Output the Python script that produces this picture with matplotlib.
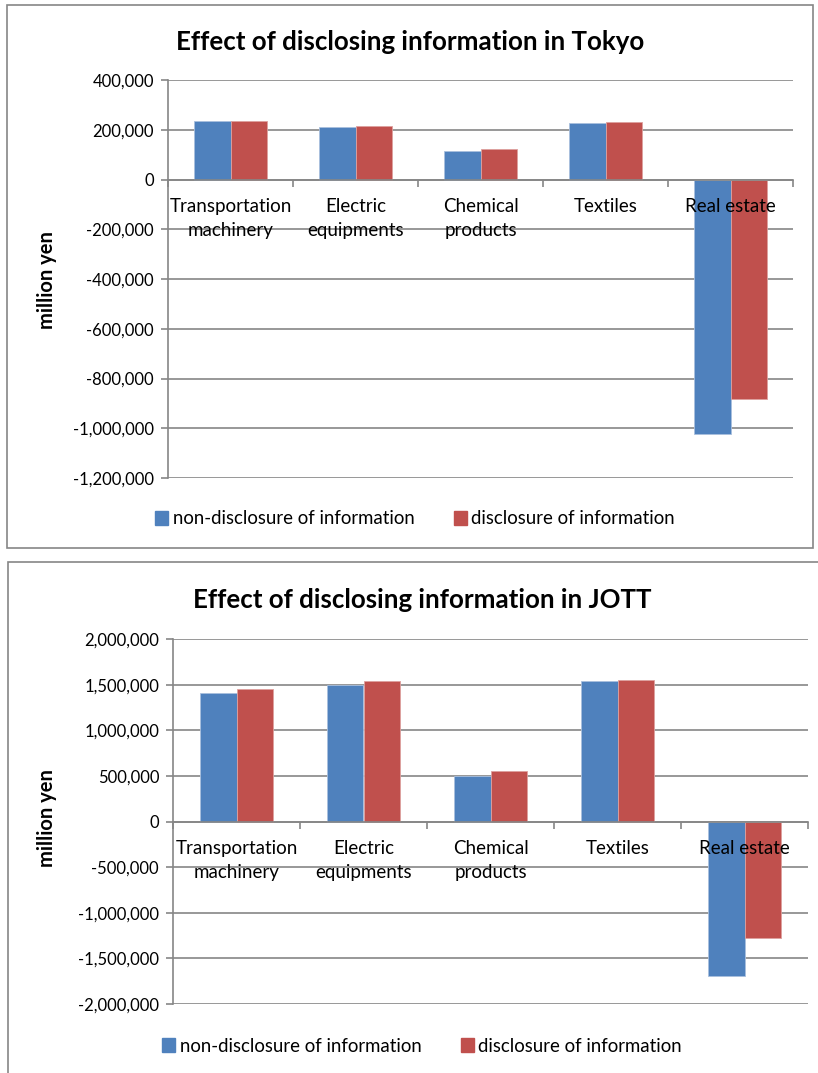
import matplotlib
matplotlib.use("Agg")
import matplotlib.pyplot as plt
from matplotlib.patches import Rectangle, Patch
from matplotlib.ticker import FuncFormatter
import numpy as np

plt.rcParams['font.family'] = ['Lato', 'DejaVu Sans']

categories = ["Transportation\nmachinery", "Electric\nequipments", "Chemical\nproducts", "Textiles", "Real estate"]
series_names = ["non-disclosure of information", "disclosure of information"]

tokyo_nondisclosure = [234000, 211000, 115000, 227000, -1025000]
tokyo_disclosure = [237000, 217000, 121000, 230000, -883000]

jott_nondisclosure = [1405000, 1500000, 504000, 1544000, -1691000]
jott_disclosure = [1453000, 1536000, 558000, 1555000, -1272000]

tokyo_ticks = [-1200000, -1000000, -800000, -600000, -400000, -200000, 0, 200000, 400000]
jott_ticks = [-2000000, -1500000, -1000000, -500000, 0, 500000, 1000000, 1500000, 2000000]

BLUE = "#4F81BD"
RED = "#C0504D"
GRID = "#868686"

W, H = 818, 1073
fig = plt.figure(figsize=(W / 100, H / 100), dpi=100)


def fx(px):
    return px / W


def fy(py):
    return 1 - py / H


# panel borders
fig.patches.append(Rectangle((fx(7), fy(548)), fx(813 - 7), (548 - 5) / H,
                             transform=fig.transFigure, fill=False, edgecolor=GRID, lw=1.2))
fig.patches.append(Rectangle((fx(8), fy(1080)), fx(830 - 8), (1080 - 562) / H,
                             transform=fig.transFigure, fill=False, edgecolor=GRID, lw=1.2))


def draw(left, right, top, bottom, a, b, ticks, title, title_xy, legend_xy, ylabel_xy):
    ax = fig.add_axes([fx(left), fy(bottom), (right - left) / W, (bottom - top) / H])
    x = np.arange(len(categories)) + 0.5
    bw = 0.29
    ax.bar(x - bw / 2, a, width=bw, color=BLUE, edgecolor="#A9C0DE", linewidth=0.6, zorder=2,
           label=series_names[0])
    ax.bar(x + bw / 2, b, width=bw, color=RED, edgecolor="#DDA09E", linewidth=0.6, zorder=2,
           label=series_names[1])
    ax.set_xlim(0, len(categories))
    ax.set_ylim(ticks[0], ticks[-1])
    ax.set_yticks(ticks)
    ax.yaxis.set_major_formatter(FuncFormatter(lambda v, p: f"{int(v):,}"))
    ax.yaxis.grid(True, color=GRID, lw=1.2, zorder=0)
    ax.set_axisbelow(True)
    for s in ["top", "right"]:
        ax.spines[s].set_visible(False)
    ax.spines["left"].set_color(GRID)
    ax.spines["left"].set_linewidth(1.2)
    ax.spines["bottom"].set_position(("data", 0))
    ax.spines["bottom"].set_color(GRID)
    ax.spines["bottom"].set_linewidth(1.2)
    ax.spines["bottom"].set_zorder(3)
    ax.set_xticks(np.arange(len(categories) + 1))
    ax.set_xticklabels([])
    ax.tick_params(axis="x", direction="out", length=5, color=GRID, width=1.2)
    ax.tick_params(axis="y", direction="out", length=5, color=GRID, width=1.2,
                   labelsize=12, labelcolor="black", pad=5)
    for xi, lab in zip(x, categories):
        ax.annotate(lab, xy=(xi, 0), xytext=(0, -13), textcoords="offset points",
                    ha="center", va="top", fontsize=13.5, linespacing=1.5, zorder=5)
    fig.text(fx(title_xy[0]), fy(title_xy[1]), title, ha="center", va="center",
             fontsize=18.6, fontweight="bold")
    fig.text(fx(ylabel_xy[0]), fy(ylabel_xy[1]), "million yen", rotation=90,
             ha="center", va="center", fontsize=14.5, fontweight="bold")
    handles = [Patch(color=BLUE), Patch(color=RED)]
    fig.legend(handles, series_names, loc="center", bbox_to_anchor=(fx(legend_xy[0]), fy(legend_xy[1])),
               ncol=2, frameon=False, fontsize=13.4, handlelength=0.7, handleheight=0.7,
               handletextpad=0.25, columnspacing=2.1)
    return ax


draw(168, 793, 80, 478, tokyo_nondisclosure, tokyo_disclosure, tokyo_ticks,
     "Effect of disclosing information in Tokyo", (410, 42), (415, 519), (47, 280))
draw(173, 808, 639, 1004, jott_nondisclosure, jott_disclosure, jott_ticks,
     "Effect of disclosing information in JOTT", (422, 600), (422, 1046), (47, 818))

fig.savefig("out.png", dpi=100)
